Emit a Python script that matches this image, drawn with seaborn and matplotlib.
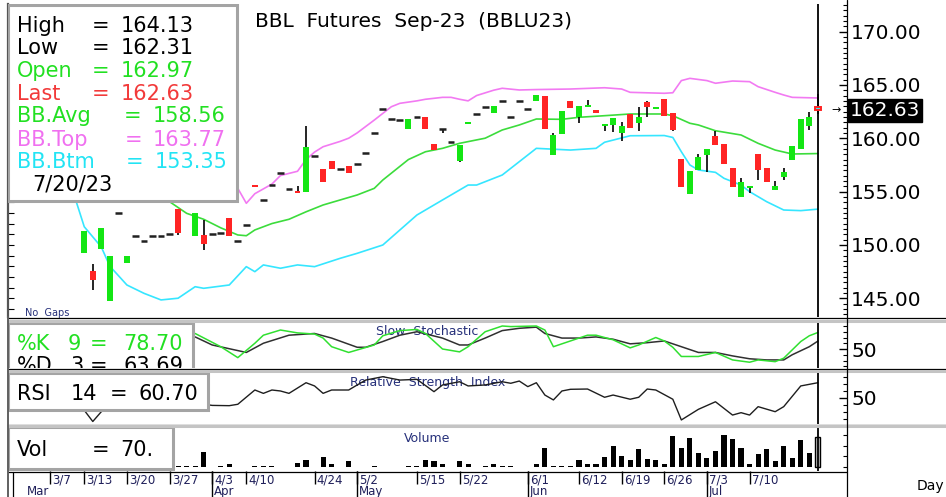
#!/usr/bin/env python3
"""BBL futures daily chart: candles with Bollinger bands, slow stochastic, RSI and volume."""

import matplotlib
matplotlib.use("Agg")
import matplotlib.pyplot as plt
from matplotlib.patches import Rectangle
from matplotlib.lines import Line2D
from matplotlib.transforms import Affine2D, blended_transform_factory
from matplotlib.ticker import FixedLocator, MultipleLocator, FormatStrFormatter
import seaborn as sns

sns.set_theme(style="white")
plt.rcParams["font.family"] = ["DejaVu Sans"]

# bars are indexed by trading day: 0 = 3/1/23 ... 94 = 7/20/23
# (bars 0-7 and 20 sit behind the legend box, estimated)
opens = [159.0, 158.4, 158.0, 157.2, 156.6, 156.0, 155.8, 155.0, 149.2, 147.55,
         149.6, 144.7, 153.0, 148.3, 150.8, 150.35, 150.85, 150.85, 151.0, 153.35,
         154.6, 150.8, 150.9, 151.0, 151.1, 152.5, 150.4, 151.85, 155.5, 154.2,
         155.6, 156.75, 155.2, 155.0, 155.0, 158.35, 157.1, 157.9, 157.1, 157.4,
         157.55, 158.6, 160.5, 162.75, 161.8, 161.7, 160.9, 162.0, 162.0, 159.45,
         160.85, 159.6, 157.9, 161.35, 162.25, 162.95, 162.4, 163.5, 162.0, 163.5,
         162.7, 163.5, 164.0, 158.4, 160.4, 163.5, 162.0, 162.95, 162.65, 161.15,
         161.25, 160.45, 162.25, 161.45, 163.35, 162.75, 163.65, 162.35, 158.05, 154.8,
         157.0, 158.45, 160.2, 159.45, 157.2, 154.45, 155.35, 158.5, 157.25, 155.15,
         156.35, 157.95, 158.95, 161.15, 162.97]
highs = [159.0, 158.4, 158.0, 157.2, 156.6, 156.5, 155.8, 155.0, 151.3, 148.2,
         151.6, 149.0, 153.0, 149.0, 150.8, 150.35, 150.85, 150.85, 151.0, 153.35,
         154.6, 153.0, 152.3, 151.0, 151.1, 152.5, 150.4, 151.85, 155.5, 154.2,
         155.6, 156.75, 155.2, 155.55, 161.1, 158.35, 157.1, 157.9, 157.1, 157.4,
         157.55, 158.6, 160.5, 162.75, 161.8, 161.7, 161.8, 162.0, 162.0, 159.45,
         160.85, 159.6, 159.35, 161.4, 162.25, 162.95, 163.05, 163.5, 162.0, 163.5,
         162.7, 164.05, 164.0, 160.45, 162.55, 163.5, 163.05, 163.6, 162.65, 161.2,
         161.85, 161.55, 162.25, 162.9, 163.5, 162.8, 163.65, 162.35, 158.05, 156.95,
         158.5, 159.0, 160.7, 159.45, 157.2, 156.3, 155.4, 158.5, 157.25, 156.0,
         157.2, 159.3, 161.8, 162.5, 164.13]
lows = [159.0, 158.4, 157.2, 157.2, 156.6, 155.2, 155.8, 154.6, 149.2, 145.8,
        149.6, 144.7, 153.0, 148.3, 150.8, 150.35, 150.85, 150.85, 151.0, 150.9,
        154.6, 150.8, 149.5, 151.0, 151.1, 150.8, 150.4, 151.85, 155.4, 154.2,
        155.6, 156.75, 155.2, 154.9, 155.0, 158.35, 155.9, 157.1, 157.1, 156.7,
        157.55, 158.6, 160.5, 162.75, 161.8, 161.7, 160.9, 162.0, 160.9, 158.85,
        160.45, 159.6, 157.8, 161.35, 162.25, 162.95, 162.4, 163.5, 162.0, 163.5,
        162.7, 163.5, 160.9, 158.4, 160.4, 162.8, 161.45, 162.95, 162.4, 160.7,
        160.6, 159.75, 160.95, 160.7, 162.0, 162.75, 162.1, 160.7, 155.4, 154.8,
        157.0, 156.85, 159.35, 157.6, 155.4, 154.45, 154.9, 156.1, 155.85, 155.15,
        156.1, 157.95, 158.95, 160.75, 162.31]
closes = [159.0, 158.4, 157.3, 157.2, 156.6, 155.5, 155.8, 154.6, 151.3, 146.7,
          151.6, 149.0, 153.0, 149.0, 150.8, 150.35, 150.85, 150.85, 151.0, 151.1,
          154.6, 153.0, 150.1, 151.0, 151.1, 150.8, 150.4, 151.85, 155.4, 154.2,
          155.6, 156.75, 155.2, 154.9, 159.2, 158.35, 155.9, 157.1, 157.1, 156.7,
          157.55, 158.6, 160.5, 162.75, 161.8, 161.7, 161.8, 162.0, 160.9, 158.85,
          160.85, 159.6, 159.35, 161.4, 162.25, 162.95, 163.05, 163.5, 162.0, 163.5,
          162.7, 164.05, 160.9, 160.3, 162.55, 162.8, 163.05, 163.0, 162.4, 161.2,
          161.85, 161.1, 160.95, 161.95, 162.95, 162.8, 162.1, 160.8, 155.4, 156.95,
          158.25, 159.0, 159.35, 157.6, 155.4, 155.85, 155.4, 157.0, 155.85, 155.55,
          156.85, 159.3, 161.8, 162.0, 162.63]
volumes = [3, 2, 6, 2, 4, 8, 3, 10, 14, 20,
           12, 25, 2, 9, 2, 2, 2, 2, 2, 2,
           2, 2, 35, 0, 2, 7, 0, 0, 2, 2,
           2, 0, 0, 9, 17, 0, 23, 7, 0, 13,
           0, 0, 2, 0, 0, 0, 2, 2, 17, 13,
           7, 0, 13, 7, 0, 2, 7, 2, 2, 0,
           0, 8, 44, 3, 3, 3, 16, 8, 8, 23,
           48, 26, 16, 41, 18, 16, 6, 72, 44, 68,
           33, 21, 37, 74, 66, 44, 6, 31, 41, 13,
           48, 22, 62, 33, 70]
last_date = "7/20/23"

# Bollinger bands
bb_top_idx = [26, 27, 28, 30, 31, 33, 34, 35, 36, 38, 39, 40, 42, 44, 45, 47, 48, 50, 51, 52,
              53, 54, 56, 57, 59, 61, 65, 69, 71, 72, 76, 77, 78, 79, 81, 82, 84, 86, 87, 89,
              90, 91, 94]
bb_top = [155.3, 153.9, 154.8, 155.7, 156.5, 156.9, 158.0, 158.7, 159.2, 159.7, 160.0, 160.5,
          161.7, 162.95, 163.27, 163.5, 163.65, 163.83, 163.83, 163.65, 163.5, 164.0, 164.5,
          164.68, 164.52, 164.56, 164.61, 164.73, 164.61, 164.3, 164.21, 164.26, 165.4, 165.61,
          165.4, 165.15, 165.36, 165.3, 164.83, 164.3, 164.05, 163.83, 163.77]
bb_mid_idx = [18, 20, 22, 24, 26, 27, 28, 30, 32, 34, 36, 38, 40, 42, 43, 46, 48, 50, 52, 55,
              57, 59, 61, 64, 66, 69, 72, 76, 77, 79, 80, 82, 85, 87, 89, 91, 94]
bb_mid = [154.05, 152.96, 152.4, 151.6, 150.93, 150.86, 151.4, 152.0, 152.4, 153.1, 153.74,
          154.21, 154.68, 155.3, 156.08, 158.0, 158.73, 159.05, 159.52, 160.0, 160.77, 161.24,
          161.8, 161.77, 161.96, 162.11, 162.27, 162.27, 162.11, 161.4, 161.24, 160.7, 160.3,
          159.52, 158.89, 158.52, 158.56]
bb_bot_idx = [7, 8, 10, 11, 13, 15, 17, 19, 21, 22, 25, 27, 28, 29, 31, 33, 35, 38, 40, 43,
              47, 50, 53, 54, 57, 61, 65, 68, 69, 72, 76, 77, 78, 79, 80, 82, 83, 85, 86, 88,
              90, 92, 94]
bb_bot = [154.2, 151.7, 149.8, 148.0, 146.24, 145.46, 144.84, 145.0, 146.08, 145.93, 146.24,
          147.96, 147.49, 148.12, 147.81, 148.12, 147.96, 148.74, 149.21, 149.99, 152.8, 154.21,
          155.61, 155.61, 156.55, 159.05, 158.89, 159.05, 159.62, 160.23, 160.25, 160.07,
          158.73, 157.49, 157.02, 156.8, 156.24, 155.61, 154.99, 154.05, 153.27, 153.21, 153.35]

# slow stochastic %K(9) and %D(3)
k_idx = [21, 24, 26, 28, 29, 31, 33, 35, 36, 37, 39, 42, 43, 45, 47, 48, 50, 52, 53, 55,
         57, 58, 61, 62, 63, 65, 67, 68, 70, 72, 73, 75, 76, 77, 78, 80, 82, 84, 86, 87,
         89, 90, 92, 93, 94]
k_vals = [77, 54, 35, 60, 74, 83, 78, 76, 69, 54, 44, 57, 73, 82, 84, 77, 50, 45, 54, 80,
          90, 89, 90, 83, 54, 64, 74, 74, 66, 52, 57, 70, 64, 53, 37, 37, 44, 31, 27, 31,
          28, 34, 63, 73, 78.70]
d_idx = [21, 23, 27, 29, 32, 35, 37, 40, 41, 43, 45, 47, 50, 52, 53, 55, 57, 59, 61, 62,
         64, 66, 68, 70, 72, 74, 76, 78, 80, 82, 84, 86, 88, 90, 91, 93, 94]
d_vals = [71, 57, 44, 60, 74, 77, 69, 53, 53, 63, 74, 80, 69, 57, 57, 69, 82, 86, 88, 77,
          69, 69, 71, 67, 59, 61, 64, 54, 44, 44, 38, 33, 31, 31, 40, 54, 63.69]

# RSI(14) (points 7 and 11-22 hidden behind the box, estimated)
rsi_idx = [7, 8, 9, 10, 12, 14, 17, 20, 23, 25, 26, 28, 29, 30, 31, 32, 34, 35, 36, 37,
           39, 40, 41, 43, 45, 47, 49, 50, 52, 53, 55, 57, 58, 59, 60, 61, 62, 63, 64, 65,
           67, 69, 70, 72, 73, 74, 75, 77, 78, 80, 82, 84, 85, 86, 87, 89, 90, 92, 94]
rsi_vals = [44, 41, 33, 40, 47, 44, 46, 47, 44.5, 44.3, 45.3, 55.5, 53.1, 55.5, 54.8, 53.1,
            60.7, 58.4, 53.1, 55.5, 55.5, 59.1, 62.6, 65.0, 62.6, 63.1, 54.3, 59.1, 61.4, 58.4,
            59.1, 61.4, 60.3, 61.9, 57.9, 60.7, 51.9, 48.4, 54.8, 56.0, 56.2, 50.3, 51.9, 48.9,
            50.3, 56.2, 55.5, 48.9, 34.1, 41.7, 47.1, 37.6, 39.3, 37.6, 43.6, 40.0, 43.6, 58.4,
            60.70]

# date axis (month labels sit just right of the first bar of each month)
week_pos = [4, 8, 13, 18, 23, 27, 35, 40, 47, 52, 60, 66, 71, 76, 81, 86]
week_labels = ["3/7", "3/13", "3/20", "3/27", "4/3", "4/10", "4/24", "5/2", "5/15", "5/22",
               "6/1", "6/12", "6/19", "6/26", "7/3", "7/10"]
month_pos = [1, 23, 40, 60, 81]
month_labels = ["Mar", "Apr", "May", "Jun", "Jul"]
price_ticks = [145, 150, 155, 160, 165, 170]

GREEN = "#14e614"
RED = "#ff2424"
NAVY = "#26307a"

W, H = 946, 497
LEFT, RIGHT = 8, 847
fig = plt.figure(figsize=(W / 100, H / 100), dpi=100)
fig.patch.set_facecolor("white")
# pixel coordinates measured from the top-left corner
PX = Affine2D().scale(1 / W, -1 / H).translate(0, 1) + fig.transFigure


def panel(top, bottom):
    ax = fig.add_axes([LEFT / W, 1 - bottom / H, (RIGHT - LEFT) / W, (bottom - top) / H])
    for s in ax.spines.values():
        s.set_visible(False)
    ax.set_facecolor("white")
    ax.grid(False)
    ax.tick_params(axis="x", bottom=False, labelbottom=False)
    return ax


def right_ticks(ax, major, minor, fmt=None, size=14.5):
    ax.yaxis.tick_right()
    ax.yaxis.set_major_locator(FixedLocator(major))
    if fmt:
        ax.yaxis.set_major_formatter(FormatStrFormatter(fmt))
    ax.yaxis.set_minor_locator(MultipleLocator(minor))
    ax.tick_params(axis="y", which="major", direction="in", length=6, width=1, color="black",
                   labelcolor="black", labelsize=size, pad=3, right=True, left=False)
    ax.tick_params(axis="y", which="minor", direction="in", length=3, width=0.8,
                   color="black", right=True, left=False)


def legend_box(ax, x0, y0, x1, y1):
    ax.add_patch(Rectangle((x0, y0), x1 - x0, y1 - y0, transform=PX, facecolor="white",
                           edgecolor="#a4a4a4", linewidth=2.2, zorder=10))


def legend_row(ax, baseline, parts, color, size=15):
    for x, s in parts:
        ax.text(x, baseline, s, transform=PX, color=color, fontsize=size, va="baseline",
                ha="left", zorder=11, clip_on=True)


def fig_line(xs, ys, color, lw):
    fig.add_artist(Line2D(xs, ys, transform=PX, color=color, linewidth=lw))


# ---- price panel ----
ax = panel(4, 317)
for i in range(len(opens)):
    o, h, l, c = opens[i], highs[i], lows[i], closes[i]
    if h > l:
        ax.vlines(i, l, h, color="black", linewidth=1.2, zorder=3)
    if o == c:
        ax.hlines(c, i - 0.4, i + 0.4, color="#202020", linewidth=1.8, zorder=4)
    elif i == len(opens) - 1:
        ax.bar(i, o - c, bottom=c, width=0.7, color="#3ee8f0", edgecolor=RED,
               linewidth=1.4, zorder=4)
    else:
        ax.bar(i, max(abs(c - o), 0.18), bottom=min(o, c), width=0.7,
               color=GREEN if c > o else RED, linewidth=0, zorder=4)

sns.lineplot(x=bb_top_idx, y=bb_top, ax=ax, color="#f27af2", linewidth=1.2, zorder=2)
sns.lineplot(x=bb_mid_idx, y=bb_mid, ax=ax, color="#3cdc3c", linewidth=1.2, zorder=2)
sns.lineplot(x=bb_bot_idx, y=bb_bot, ax=ax, color="#36e6ff", linewidth=1.2, zorder=2)
ax.axvline(len(opens) - 1, color="black", linewidth=1.3, zorder=2.5)

right_ticks(ax, price_ticks, 0.5, "%.2f")
sec = ax.secondary_yaxis("left")
sec.yaxis.set_major_locator(MultipleLocator(1))
sec.tick_params(direction="in", length=4, width=0.8, color="black", labelleft=False)
sec.spines["left"].set_color("#555555")
sec.spines["left"].set_linewidth(1.6)

tag = blended_transform_factory(ax.transAxes, ax.transData)
ax.text(1.0035, closes[-1], f"{closes[-1]:.2f}", transform=tag, color="white", fontsize=14.5,
        va="center", ha="left", clip_on=False, zorder=20,
        bbox=dict(boxstyle="square,pad=0.1", facecolor="black", edgecolor="black"))
ax.text(96.1, closes[-1], "\u2192", fontsize=8, ha="center", va="center", color="black")

ax.text(255, 26.7, "BBL  Futures  Sep-23  (BBLU23)", transform=PX, fontsize=14.5,
        va="baseline", color="black")
ax.text(25, 316, "No  Gaps", transform=PX, fontsize=7, va="baseline", color=NAVY)

legend_box(ax, 8, 5, 237, 201)
legend_row(ax, 31.7, [(17, "High"), (92, "="), (121, f"{highs[-1]:.2f}")], "black")
legend_row(ax, 54.5, [(17, "Low"), (92, "="), (121, f"{lows[-1]:.2f}")], "black")
legend_row(ax, 77, [(17, "Open"), (92, "="), (121, f"{opens[-1]:.2f}")], "#22e022")
legend_row(ax, 99.5, [(17, "Last"), (92, "="), (121, f"{closes[-1]:.2f}")], "#f23a3a")
legend_row(ax, 122.5, [(17, "BB.Avg"), (124, "="), (153, f"{bb_mid[-1]:.2f}")], "#22e022")
legend_row(ax, 145.5, [(17, "BB.Top"), (125, "="), (153, f"{bb_top[-1]:.2f}")], "#f070f0")
legend_row(ax, 168, [(17, "BB.Btm"), (126, "="), (155, f"{bb_bot[-1]:.2f}")], "#22e4f4")
legend_row(ax, 190.5, [(32, last_date)], "black")

# ---- slow stochastic ----
ax_st = panel(322, 368)
sns.lineplot(x=d_idx, y=d_vals, ax=ax_st, color="#303030", linewidth=1.1)
sns.lineplot(x=k_idx, y=k_vals, ax=ax_st, color="#30e030", linewidth=1.1)
ax_st.axvline(len(opens) - 1, color="black", linewidth=1.3)
ax_st.text(0.5, 0.8, "Slow  Stochastic", transform=ax_st.transAxes, ha="center",
           va="center", fontsize=9, color=NAVY, zorder=1)
right_ticks(ax_st, [50], 10)
legend_box(ax_st, 8, 323, 193, 385)
legend_row(ax_st, 349.5, [(17, "%K"), (68, "9"), (90, "="), (123, f"{k_vals[-1]:.2f}")],
           "#22e022")
legend_row(ax_st, 372, [(17, "%D"), (70, "3"), (90, "="), (123, f"{d_vals[-1]:.2f}")],
           "black")

# ---- RSI ----
ax_rsi = panel(372, 424)
sns.lineplot(x=rsi_idx, y=rsi_vals, ax=ax_rsi, color="#1e1e1e", linewidth=1.0)
ax_rsi.axvline(len(opens) - 1, color="black", linewidth=1.3)
ax_rsi.text(0.5, 0.79, "Relative  Strength  Index", transform=ax_rsi.transAxes,
            ha="center", va="center", fontsize=9, color=NAVY, zorder=1)
right_ticks(ax_rsi, [50], 5)
legend_box(ax_rsi, 8, 373, 208, 410)
legend_row(ax_rsi, 400, [(17, "RSI"), (71, "14"), (110, "="), (138, f"{rsi_vals[-1]:.2f}")],
           "black")

# ---- volume ----
ax_vol = panel(427, 471)
idx = list(range(len(volumes)))
ax_vol.bar(idx[:-1], volumes[:-1], width=0.6, color="black", linewidth=0)
ax_vol.bar(idx[-1], volumes[-1], width=0.6, color="#c8c8c8", edgecolor="black", linewidth=1)
ax_vol.axvline(len(opens) - 1, color="black", linewidth=1.3)
ax_vol.text(0.5, 0.75, "Volume", transform=ax_vol.transAxes, ha="center", va="center",
            fontsize=9, color=NAVY, zorder=1)
right_ticks(ax_vol, [], 25)
legend_box(ax_vol, 8, 427, 173, 469)
legend_row(ax_vol, 455.5, [(17, "Vol"), (92, "="), (120, f"{volumes[-1]}.")], "black")

# ---- date axis ----
ax_dt = panel(471, 497)
xa = ax_dt.get_xaxis_transform()
ax_dt.vlines(week_pos, 0.5, 1, transform=xa, color="black", linewidth=1)
ax_dt.vlines(month_pos[1:], 0, 1, transform=xa, color="black", linewidth=1)
for p, s in zip(week_pos, week_labels):
    ax_dt.text(p + 0.25, 0.66, s, transform=xa, fontsize=8.5, va="center", color="#1f1f5a")
for p, s in zip(month_pos, month_labels):
    ax_dt.text(p + 0.25, 0.2, s, transform=xa, fontsize=8.5, va="center", color="#1f1f5a")
ax_dt.set_yticks([])

for a, lim in [(ax, (143.24, 172.58)), (ax_st, (16.96, 96.96)), (ax_rsi, (31.21, 68.36)),
               (ax_vol, (-9.33, 93.3)), (ax_dt, (0, 1))]:
    a.set_xlim(-0.94, 97.42)
    a.set_ylim(*lim)
    a.set_xlabel("")
    a.set_ylabel("")

# panel frames
for y_black, y_gray in [(317.5, 320.5), (368.5, 371), (424.5, 426.2)]:
    fig_line([LEFT, W], [y_black, y_black], "black", 0.9)
    fig_line([LEFT, W], [y_gray, y_gray], "#c4c4c4", 2.2)
fig_line([LEFT, RIGHT], [471.5, 471.5], "black", 0.9)
fig_line([RIGHT, RIGHT], [0, H], "black", 0.9)
fig_line([LEFT, LEFT], [317, H], "#606060", 1.4)
fig_line([13, 13], [471.5, H], "black", 0.9)
fig.text(917 / W, 1 - 490 / H, "Day", fontsize=10, color="black", va="baseline")

fig.savefig("out.png", dpi=100)
